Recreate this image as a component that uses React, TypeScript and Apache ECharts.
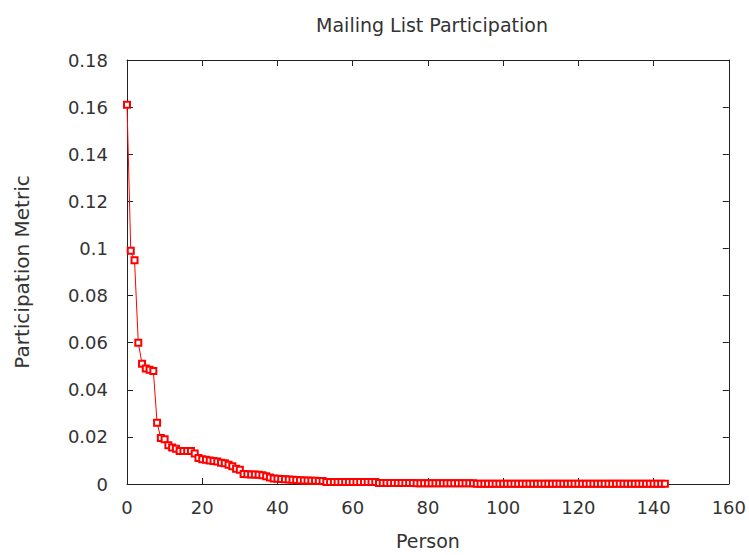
import React, { useEffect, useRef } from "react";
import * as echarts from "echarts";

const titleText = "Mailing List Participation";
const xName = "Person";
const yName = "Participation Metric";
const xTicks = [0, 20, 40, 60, 80, 100, 120, 140, 160];
const yTicks = [0, 0.02, 0.04, 0.06, 0.08, 0.1, 0.12, 0.14, 0.16, 0.18];

// participation metric for each person (index = person)
const head = [
  0.161, 0.099, 0.095, 0.060, 0.051, 0.049, 0.0485, 0.048, 0.026, 0.0195,
  0.019, 0.0165, 0.0155, 0.015, 0.014, 0.014, 0.014, 0.014, 0.013, 0.011,
  0.0105, 0.0103, 0.010, 0.0098, 0.0095, 0.009, 0.0088, 0.0082, 0.0075, 0.0065,
  0.006, 0.0042, 0.0041, 0.004, 0.004, 0.0039, 0.0037, 0.0033, 0.0028, 0.0023,
  0.0022, 0.0021, 0.002, 0.0019, 0.0018, 0.0017, 0.0016, 0.0015, 0.0015, 0.0014,
  0.0014, 0.0013, 0.0013,
];
const middle = [
  0.0009, 0.0009, 0.0009, 0.0009, 0.0009, 0.0009, 0.0009, 0.0008, 0.0008, 0.0008,
  0.0008, 0.0008, 0.0008, 0.0008,
];
const lower = [
  0.0004, 0.0004, 0.0004, 0.0004, 0.0004, 0.0004, 0.0004, 0.0004, 0.0004, 0.0004,
  0.0003, 0.0003, 0.0003, 0.0003, 0.0003, 0.0003, 0.0003, 0.0003, 0.0003, 0.0003,
  0.0003, 0.0003, 0.0003, 0.0003, 0.0003, 0.0003,
];
const tail = [
  0.0001, 0.0001, 0.0001, 0.0001, 0.0001, 0.0001, 0.0001, 0.0001, 0.0001, 0.0001,
  0.0001, 0.0001, 0.0001, 0.0001, 0.0001, 0.0001, 0.0001, 0.0001, 0.0001, 0.0001,
  0.0001, 0.0001, 0.0001, 0.0001, 0.0001, 0.0001, 0.0001, 0.0001, 0.0001, 0.0001,
  0.0001, 0.0001, 0.0001, 0.0001, 0.0001, 0.0001, 0.0001, 0.0001, 0.0001, 0.0001,
  0.0001, 0.0001, 0.0001, 0.0001, 0.0001, 0.0001, 0.0001, 0.0001, 0.0001, 0.0001,
  0.0001,
];
const values = [...head, ...middle, ...lower, ...tail];

const FONT = "DejaVu Sans";
const TEXT = "#333333";
const AXIS = "#222222";

export default function App() {
  const ref = useRef<HTMLDivElement>(null);
  useEffect(() => {
    if (!ref.current) return;
    const chart = echarts.init(ref.current, undefined, { renderer: "svg" });
    const data = values.map((v, i) => [i, v]);
    const tickStyle = { show: true, inside: true, length: 6, lineStyle: { color: AXIS, width: 1 } };
    chart.setOption({
      animation: false,
      backgroundColor: "#ffffff",
      title: {
        text: titleText,
        left: 427,
        top: 10,
        textAlign: "center",
        textStyle: { fontFamily: FONT, fontSize: 19, fontWeight: "normal", color: TEXT },
      },
      grid: { left: 127, right: 18, top: 60, bottom: 62, containLabel: false },
      xAxis: [
        {
          type: "value",
          min: xTicks[0],
          max: xTicks[xTicks.length - 1],
          interval: 20,
          name: xName,
          nameLocation: "middle",
          nameGap: 47,
          nameTextStyle: { fontFamily: FONT, fontSize: 19, color: TEXT },
          axisLine: { show: true, onZero: false, lineStyle: { color: AXIS, width: 1 } },
          axisTick: tickStyle,
          axisLabel: { fontFamily: FONT, fontSize: 18, color: TEXT, margin: 14 },
          splitLine: { show: false },
        },
        {
          type: "value",
          position: "top",
          min: xTicks[0],
          max: xTicks[xTicks.length - 1],
          interval: 20,
          axisLine: { show: true, onZero: false, lineStyle: { color: AXIS, width: 1 } },
          axisTick: tickStyle,
          axisLabel: { show: false },
          splitLine: { show: false },
        },
      ],
      yAxis: [
        {
          type: "value",
          min: yTicks[0],
          max: yTicks[yTicks.length - 1],
          interval: 0.02,
          name: yName,
          nameLocation: "middle",
          nameGap: 95,
          nameTextStyle: { fontFamily: FONT, fontSize: 20, color: TEXT },
          axisLine: { show: true, onZero: false, lineStyle: { color: AXIS, width: 1 } },
          axisTick: tickStyle,
          axisLabel: {
            fontFamily: FONT,
            fontSize: 18,
            color: TEXT,
            margin: 19,
            formatter: (v: number) => String(+v.toFixed(2)),
          },
          splitLine: { show: false },
        },
        {
          type: "value",
          position: "right",
          min: yTicks[0],
          max: yTicks[yTicks.length - 1],
          interval: 0.02,
          axisLine: { show: true, onZero: false, lineStyle: { color: AXIS, width: 1 } },
          axisTick: tickStyle,
          axisLabel: { show: false },
          splitLine: { show: false },
        },
      ],
      series: [
        {
          type: "line",
          xAxisIndex: 0,
          yAxisIndex: 0,
          data,
          symbol: "emptyRect",
          symbolSize: 6,
          showAllSymbol: true,
          lineStyle: { color: "#ff0000", width: 1 },
          itemStyle: { color: "#ff0000", borderColor: "#ff0000", borderWidth: 1 },
        },
      ],
    });
    return () => chart.dispose();
  }, []);
  return (
    <div
      ref={ref}
      style={{ position: "fixed", left: 0, top: 0, width: 749, height: 555 }}
    />
  );
}
